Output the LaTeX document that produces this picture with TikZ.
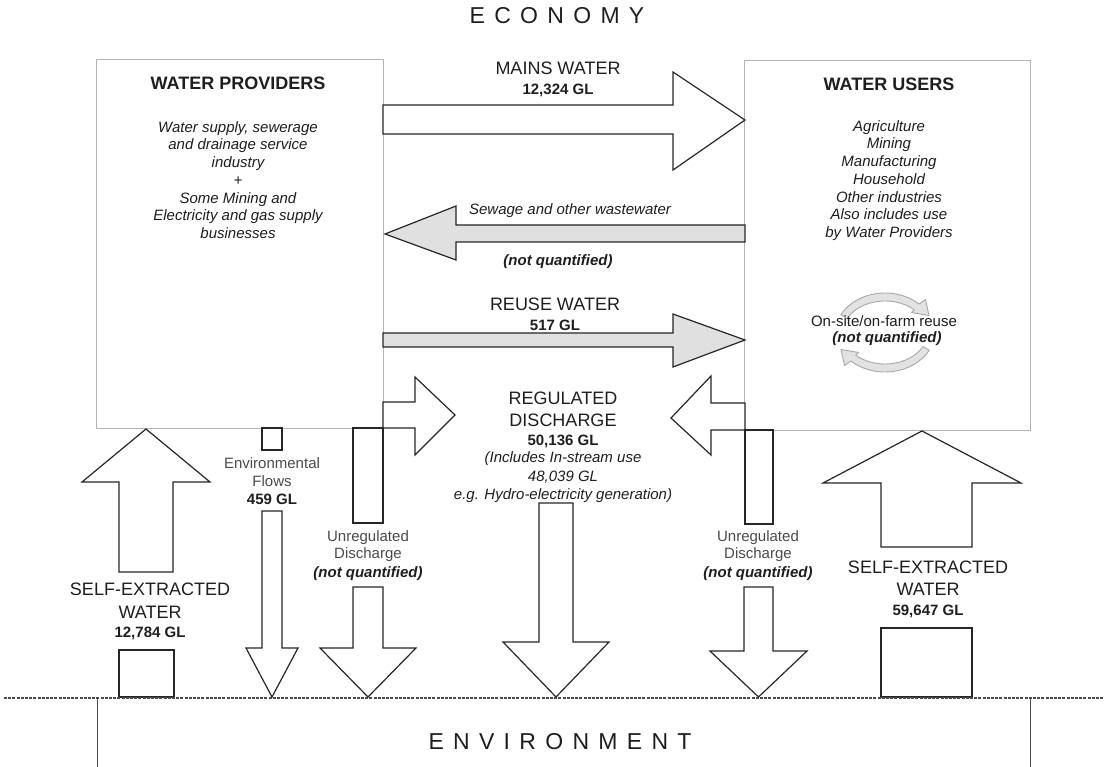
\documentclass[tikz,border=0pt]{standalone}
\usepackage{fontspec}
\setmainfont{Liberation Sans}
\definecolor{arrowc}{HTML}{262626}
\definecolor{arrowfill}{HTML}{E0E0E0}
\definecolor{panelc}{HTML}{B4B4B4}
\definecolor{txtc}{HTML}{1E1E1E}
\definecolor{softc}{HTML}{4A4A4A}
\definecolor{recycfill}{HTML}{E2E2E2}
\definecolor{recycdraw}{HTML}{A8A8A8}
\newcommand\myls{\hspace{9.3pt}}
\newcommand\myfbig{\fontsize{18}{21}\selectfont}
\newcommand\myfmed{\fontsize{15}{17.7}\selectfont}
\newcommand\myfhuge{\fontsize{23}{26}\selectfont}
\newcommand\myrecyc[1]{%
  \filldraw[recyc,#1]
    plot[domain=152:47,samples=30] ({885+50*cos(\x)},{334-41*sin(\x)})
    -- (925.5,299.5) -- (929,315.5) -- (911.5,312.5)
    -- plot[domain=47:152,samples=30] ({885+43*cos(\x)},{334-33*sin(\x)}) -- cycle;}
\begin{document}
\begin{tikzpicture}[x=1pt,y=-1pt,
  blk/.style={draw=arrowc, line width=1.2pt, fill=white, line join=miter},
  blkg/.style={blk, fill=arrowfill},
  panel/.style={draw=panelc, line width=1pt, fill=white, inner sep=0pt, anchor=north west},
  tx/.style={inner sep=0pt, anchor=base, text=txtc, align=center},
  big/.style={tx, font=\myfbig},
  num/.style={tx, font=\myfmed\bfseries},
  ital/.style={tx, font=\myfmed\itshape},
  bital/.style={tx, font=\myfmed\bfseries\itshape},
  soft/.style={tx, font=\myfmed, text=softc},
  recyc/.style={fill=recycfill, draw=recycdraw, line width=0.9pt, line join=round}]
\useasboundingbox (0,0) rectangle (1104,767);

% ---- panels
\node[panel, minimum width=287pt, minimum height=369pt] (prov) at (96,59) {};
\node[panel, minimum width=286pt, minimum height=370pt] (users) at (744,60) {};

% ---- titles
\node[tx, font=\myfhuge] (economy) at (557,24) {E\myls C\myls O\myls N\myls O\myls M\myls Y};
\node[tx, font=\myfbig\bfseries] (provt) at (238,90) {WATER PROVIDERS};
\node[tx, font=\myfbig\bfseries] (usert) at (889,91) {WATER USERS};
\node[tx, anchor=center, font=\myfmed\itshape] (provd) at (238,180)
  {Water supply, sewerage\\and drainage service\\industry\\+\\Some Mining and\\Electricity and gas supply\\businesses};
\node[tx, anchor=center, font=\myfmed\itshape] (userd) at (889,180.5)
  {Agriculture\\Mining\\Manufacturing\\Household\\Other industries\\Also includes use\\by Water Providers};

% ---- on-site reuse
\myrecyc{}
\myrecyc{rotate around={180:(885,332.5)}}
\node[tx, font=\myfmed] (onsite) at (884,327) {On-site/on-farm reuse};
\node[bital] (onsitenq) at (887,343) {(not quantified)};

% ---- mains water
\draw[blk] (383,105) -- (673,105) -- (673,72) -- (745,120) -- (673,170) -- (673,134) -- (383,134) -- cycle;
\node[big] (mainsl) at (558,74.5) {MAINS WATER};
\node[num] (mainsv) at (558,94.5) {12,324 GL};

% ---- sewage
\draw[blkg] (745,225) -- (456,225) -- (456,206) -- (385,234) -- (456,260) -- (456,242) -- (745,242) -- cycle;
\node[ital] (sewl) at (570,215) {Sewage and other wastewater};
\node[bital] (sewnq) at (558,266) {(not quantified)};

% ---- reuse water
\draw[blkg] (383,333) -- (673,333) -- (673,314) -- (745,340) -- (673,367) -- (673,347) -- (383,347) -- cycle;
\node[big] (reusel) at (555,310.5) {REUSE WATER};
\node[num] (reusev) at (555,330.5) {517 GL};

% ---- regulated discharge
\draw[blk] (383,402) -- (415,402) -- (415,377) -- (455,415) -- (415,455) -- (415,428) -- (383,428) -- cycle;
\draw[blk] (745,403) -- (711,403) -- (711,376) -- (671,418) -- (711,455) -- (711,430) -- (745,430) -- cycle;
\draw[blk] (539,503) -- (573,503) -- (573,642) -- (609,642) -- (556,697) -- (503,642) -- (539,642) -- cycle;
\node[big] (regl1) at (563,404.5) {REGULATED};
\node[big] (regl2) at (563,426.5) {DISCHARGE};
\node[num] (regv) at (563,445.5) {50,136 GL};
\node[ital] (regn1) at (563,463) {(Includes In-stream use};
\node[ital] (regn2) at (563,481) {48,039 GL};
\node[ital] (regn3) at (563,499) {e.g. Hydro-electricity generation)};

% ---- environmental flows
\draw[blk] (262,428) rectangle (282,450);
\draw[blk] (262,511) -- (282,511) -- (282,648) -- (298,648) -- (272,697) -- (246,648) -- (262,648) -- cycle;
\node[soft] (envf1) at (272,468) {Environmental};
\node[soft] (envf2) at (272,486) {Flows};
\node[num] (envfv) at (272,504.5) {459 GL};

% ---- unregulated discharge (left)
\draw[blk] (353,428) rectangle (383,523);
\draw[blk] (353,587) -- (383,587) -- (383,648) -- (416,648) -- (368,697) -- (320,648) -- (353,648) -- cycle;
\node[soft] (unl1) at (368,541) {Unregulated};
\node[soft] (unl2) at (368,558) {Discharge};
\node[bital] (unlnq) at (368,577) {(not quantified)};

% ---- unregulated discharge (right)
\draw[blk] (745,430) rectangle (773,524);
\draw[blk] (744,587) -- (773,587) -- (773,651) -- (807,651) -- (758.5,697) -- (710,651) -- (744,651) -- cycle;
\node[soft] (unr1) at (758,541) {Unregulated};
\node[soft] (unr2) at (758,558) {Discharge};
\node[bital] (unrnq) at (758,577) {(not quantified)};

% ---- self-extracted (left)
\draw[blk] (119,572) -- (119,482) -- (82,482) -- (146,429) -- (210,482) -- (173,482) -- (173,572) -- cycle;
\draw[blk] (119,650) rectangle (174,697);
\node[big] (sel1) at (150,595) {SELF-EXTRACTED};
\node[big] (sel2) at (150,618) {WATER};
\node[num] (selv) at (150,637.5) {12,784 GL};

% ---- self-extracted (right)
\draw[blk] (881,547) -- (881,483) -- (823,483) -- (922,431) -- (1021,483) -- (972,483) -- (972,547) -- cycle;
\draw[blk] (881,628) rectangle (972,697);
\node[big] (ser1) at (928,573) {SELF-EXTRACTED};
\node[big] (ser2) at (928,595) {WATER};
\node[num] (serv) at (928,615.5) {59,647 GL};

% ---- environment
\coordinate (dl) at (4,698);
\coordinate (dr) at (1104,698);
\draw[color=softc, line width=1.3pt, dash pattern=on 3pt off 1.2pt] (dl) -- (dr);
\coordinate (el1) at (97,698); \coordinate (el2) at (97,767);
\coordinate (er1) at (1030,698); \coordinate (er2) at (1030,767);
\draw[color=softc, line width=1pt] (el1) -- (el2) (er1) -- (er2);
\node[tx, font=\myfhuge] (environment) at (560,749) {E\myls N\myls V\myls I\myls R\myls O\myls N\myls M\myls E\myls N\myls T};
\end{tikzpicture}
\end{document}
